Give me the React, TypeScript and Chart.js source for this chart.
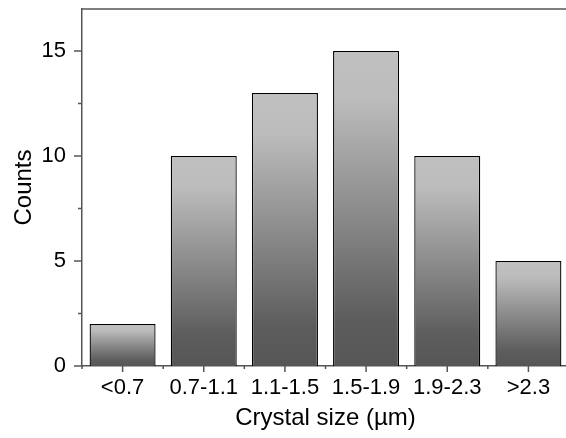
import React, { useEffect, useRef } from "react";
import { Chart, registerables } from "chart.js";

Chart.register(...registerables);

const categories = ["<0.7", "0.7-1.1", "1.1-1.5", "1.5-1.9", "1.9-2.3", ">2.3"];
const counts = [2, 10, 13, 15, 10, 5];
const yMajorTicks = [0, 5, 10, 15];
const yMinorTicks = [2.5, 7.5, 12.5];
const yTitle = "Counts";
const xTitle = "Crystal size (µm)";

const AXIS = "#555555";
const FONT = "'Liberation Sans', Arial, sans-serif";

const axisDeco = {
  id: "axisDeco",
  afterDatasetsDraw(chart: any) {
    const { ctx, chartArea, scales } = chart;
    const { left, right, top, bottom } = chartArea;
    const x = scales.x;
    const y = scales.y;
    ctx.save();
    ctx.strokeStyle = AXIS;
    ctx.lineWidth = 1.5;
    const line = (x1: number, y1: number, x2: number, y2: number) => {
      ctx.beginPath();
      ctx.moveTo(x1, y1);
      ctx.lineTo(x2, y2);
      ctx.stroke();
    };
    line(left - 0.75, top, right + 2, top);
    yMajorTicks.forEach((v) => {
      const p = y.getPixelForValue(v);
      line(left - 8, p, left, p);
    });
    yMinorTicks.forEach((v) => {
      const p = y.getPixelForValue(v);
      line(left - 4, p, left, p);
    });
    categories.forEach((_, i) => {
      const p = x.getPixelForValue(i);
      line(p, bottom, p, bottom + 6);
    });
    for (let i = 0; i <= categories.length; i++) {
      const p = x.getPixelForValue(i - 0.5);
      line(p, bottom, p, bottom + 3);
    }
    ctx.restore();
  },
};

export default function App() {
  const ref = useRef<HTMLCanvasElement | null>(null);
  useEffect(() => {
    if (!ref.current) return;
    const chart = new Chart(ref.current, {
      type: "bar",
      data: {
        labels: categories,
        datasets: [
          {
            data: counts,
            backgroundColor: (c: any) => {
              const ch = c.chart;
              const sy = ch.scales && ch.scales.y;
              if (!sy || c.type !== "data") return "#999";
              const topP = sy.getPixelForValue(c.raw);
              const botP = sy.getPixelForValue(0);
              if (!isFinite(topP) || !isFinite(botP) || topP === botP) return "#999";
              const g = ch.ctx.createLinearGradient(0, topP, 0, botP);
              g.addColorStop(0, "#c0c0c0");
              g.addColorStop(0.15, "#bcbcbc");
              g.addColorStop(0.85, "#5d5d5d");
              g.addColorStop(1, "#565656");
              return g;
            },
            borderColor: "#000000",
            borderWidth: 1.3,
            barPercentage: 0.813,
            categoryPercentage: 1,
          },
        ],
      },
      options: {
        responsive: false,
        animation: false,
        devicePixelRatio: 1,
        layout: { padding: { top: 9, right: 1, left: 0, bottom: 0 } },
        plugins: { legend: { display: false }, tooltip: { enabled: false } },
        scales: {
          x: {
            grid: { display: false, drawTicks: false },
            border: { display: true, color: AXIS, width: 1.5 },
            ticks: {
              color: "#000",
              font: { family: FONT, size: 22 },
              padding: 9,
              maxRotation: 0,
              autoSkip: false,
            },
            title: {
              display: true,
              text: xTitle,
              color: "#000",
              font: { family: FONT, size: 24 },
              padding: { top: 0, bottom: 5 },
            },
            afterFit: (s: any) => {
              s.height = 72;
              s.paddingLeft = 0;
              s.paddingRight = 0;
            },
          },
          y: {
            min: 0,
            max: 17,
            grid: { display: false, drawTicks: false },
            border: { display: true, color: AXIS, width: 1.5 },
            ticks: {
              stepSize: 5,
              color: "#000",
              font: { family: FONT, size: 22 },
              padding: 16,
            },
            afterBuildTicks: (s: any) => {
              s.ticks = yMajorTicks.map((v) => ({ value: v }));
            },
            title: {
              display: true,
              text: yTitle,
              color: "#000",
              font: { family: FONT, size: 24 },
              padding: { top: 10, bottom: 0 },
            },
            afterFit: (s: any) => {
              s.width = 82;
              s.paddingTop = 0;
              s.paddingBottom = 0;
            },
          },
        },
      },
      plugins: [axisDeco],
    });
    return () => chart.destroy();
  }, []);
  return (
    <div
      style={{
        position: "absolute",
        left: 0,
        top: 0,
        width: 566,
        height: 438,
        overflow: "hidden",
        background: "#fff",
      }}
    >
      <canvas ref={ref} width={570} height={438} style={{ display: "block" }} />
    </div>
  );
}
